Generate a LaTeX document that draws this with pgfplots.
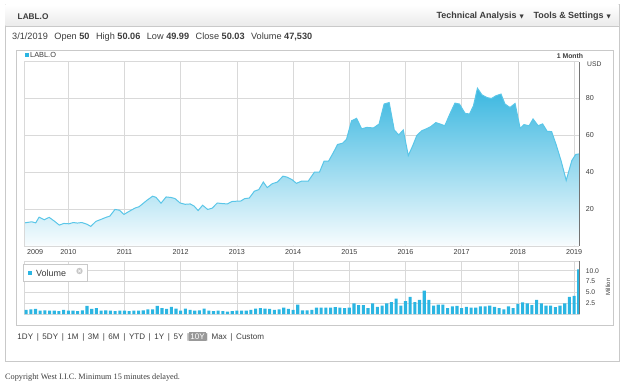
\documentclass[border=0pt]{standalone}
\usepackage{pgfplots}
\usepackage{pgfplotstable}
\pgfplotsset{compat=1.18}
\usepackage{fontspec}
\setmainfont{Liberation Sans}
\newfontfamily\dejavu{DejaVu Sans}
\newfontfamily\serifcr{Liberation Serif}
\definecolor{linec}{HTML}{5AC6E8}
\definecolor{filltop}{HTML}{3AB7E0}
\definecolor{fillbot}{HTML}{F7FCFE}
\definecolor{volc}{HTML}{2BB5E2}
\definecolor{gridc}{HTML}{D9D9D9}
\definecolor{txt}{HTML}{3C3C3C}
\definecolor{boxc}{HTML}{C9C9C9}

\pgfplotstableread{
x y
2009.22 12.4
2009.35 13.0
2009.42 12.4
2009.48 15.5
2009.57 14.1
2009.66 15.4
2009.75 13.4
2009.84 11.2
2009.92 12.1
2010.01 11.9
2010.09 12.6
2010.16 12.3
2010.24 12.6
2010.33 11.7
2010.40 10.5
2010.49 13.2
2010.59 14.4
2010.67 15.4
2010.74 16.1
2010.83 19.7
2010.91 19.3
2010.99 17.0
2011.09 18.8
2011.19 20.5
2011.26 21.2
2011.40 24.7
2011.50 26.9
2011.56 26.3
2011.65 23.1
2011.74 26.5
2011.83 26.2
2011.90 25.6
2011.99 23.2
2012.08 22.5
2012.17 22.7
2012.24 21.5
2012.31 19.1
2012.39 22.0
2012.48 19.7
2012.56 20.4
2012.65 23.2
2012.74 22.9
2012.83 22.7
2012.91 24.0
2013.00 24.2
2013.07 24.3
2013.14 25.6
2013.22 25.9
2013.31 29.6
2013.39 30.5
2013.47 34.6
2013.54 31.6
2013.63 33.7
2013.72 34.6
2013.82 37.8
2013.89 37.3
2013.98 35.9
2014.06 33.9
2014.15 35.1
2014.27 35.1
2014.38 40.0
2014.47 40.0
2014.55 45.9
2014.63 45.9
2014.72 50.8
2014.79 55.0
2014.88 55.7
2014.95 57.8
2015.04 67.9
2015.13 69.2
2015.22 63.5
2015.31 64.3
2015.43 64.0
2015.53 66.1
2015.62 77.0
2015.71 77.8
2015.80 62.9
2015.88 60.2
2015.96 62.9
2016.05 49.0
2016.13 54.4
2016.20 59.8
2016.29 62.5
2016.37 63.5
2016.45 64.7
2016.54 66.9
2016.61 66.2
2016.70 65.2
2016.79 71.6
2016.88 77.5
2016.96 77.0
2017.06 71.9
2017.14 71.6
2017.21 76.1
2017.28 85.6
2017.36 82.0
2017.45 80.5
2017.53 80.0
2017.61 81.5
2017.70 82.4
2017.77 77.0
2017.86 75.1
2017.95 77.3
2018.04 63.8
2018.11 65.8
2018.20 65.2
2018.27 68.9
2018.36 65.2
2018.44 66.2
2018.52 62.2
2018.60 62.0
2018.68 55.0
2018.77 46.0
2018.86 35.5
2018.96 46.3
2019.03 49.6
2019.093 49.9
}\price

\pgfplotstableread{
v
1.0
1.1
1.2
0.8
0.9
0.8
0.8
0.7
1.0
0.8
0.8
0.7
0.9
1.9
1.2
1.4
0.8
0.9
0.8
0.7
0.8
0.8
0.7
0.8
0.8
0.9
1.1
1.1
1.9
1.4
1.2
1.7
1.3
0.8
1.3
1.0
0.8
0.9
1.3
0.8
0.7
0.8
0.7
0.6
0.7
0.8
0.8
0.8
1.0
1.3
1.4
1.3
1.2
1.0
1.1
1.5
1.2
1.0
2.2
0.9
0.9
1.0
1.5
1.5
1.5
1.5
1.6
1.5
1.4
1.5
2.5
2.1
2.1
1.4
2.5
1.7
2.0
2.5
2.8
3.6
2.0
3.0
4.0
2.8
3.3
5.4
3.3
2.0
2.2
2.2
1.4
1.8
1.9
1.4
1.7
1.5
1.5
1.8
1.8
2.0
1.7
1.4
1.1
1.8
1.4
2.4
2.7
2.5
2.1
3.3
2.5
2.0
2.0
1.6
2.0
2.5
4.0
4.2
10.3
}\volume

\begin{document}
\begin{tikzpicture}[x=1bp,y=1bp,font=\fontsize{7}{8}\selectfont]
\path[use as bounding box] (0,0) rectangle (635,386);
% outer frame
\draw[boxc, line width=0.8bp] (5,24.3) rectangle (619,381.5);
\shade[top color=white, bottom color=black!8] (5.4,360) rectangle (618.6,381.1);
\draw[boxc, line width=0.6bp] (5,360) -- (619,360);
\node[anchor=west, text=txt, inner sep=0pt, font=\fontsize{8.3}{9}\selectfont\bfseries] at (17.5,369.5) {LABL.O};
\node[anchor=east, text=txt, inner sep=0pt, font=\fontsize{9}{10}\selectfont\bfseries] at (524,369.5) {Technical Analysis\,\,{\dejavu\fontsize{5.5}{6}\selectfont\raisebox{0.6bp}{▼}}};
\node[anchor=east, text=txt, inner sep=0pt, font=\fontsize{9}{10}\selectfont\bfseries] at (611,369.5) {Tools \& Settings\,\,{\dejavu\fontsize{5.5}{6}\selectfont\raisebox{0.6bp}{▼}}};
\node[anchor=west, text=txt, inner sep=0pt, font=\fontsize{9.2}{10}\selectfont] at (12,349) {3/1/2019\hspace{6.5bp}Open \textbf{50}\hspace{6.5bp}High \textbf{50.06}\hspace{6.5bp}Low \textbf{49.99}\hspace{6.5bp}Close \textbf{50.03}\hspace{6.5bp}Volume \textbf{47,530}};
% inner frame
\draw[boxc, line width=0.7bp] (16.7,61) rectangle (613,336);
% price legend
\fill[volc] (24.5,329.5) rectangle (28.5,333.5);
\node[anchor=west, text=txt, inner sep=0pt, font=\fontsize{7.4}{8}\selectfont] at (30,331.5) {LABL.O};
\node[text=txt, inner sep=0pt, font=\fontsize{6.9}{7}\selectfont\bfseries] at (570,330) {1 Month};
\node[anchor=west, text=txt, inner sep=0pt, font=\fontsize{6.8}{7}\selectfont] at (587,321.5) {USD};

\begin{axis}[
  at={(24.3bp,140.3bp)}, anchor=south west,
  scale only axis, width=555bp, height=184bp,
  xmin=2009.217, xmax=2019.093, ymin=0, ymax=100,
  axis line style={gridc},
  axis x line*=bottom, axis y line*=right,
  xtick={2010,2011,...,2019},
  xticklabels={2010,2011,2012,2013,2014,2015,2016,2017,2018,2019},
  extra x ticks={2009.41}, extra x tick labels={2009},
  extra x tick style={grid=none},
  ytick={20,40,60,80,100}, yticklabels={20,40,60,80,},
  major tick length=0pt,
  grid=major, major grid style={gridc, line width=0.7bp},
  /pgf/number format/assume math mode=true,
  ticklabel style={font=\fontsize{7.2}{8}\selectfont, text=txt},
  yticklabel style={anchor=west, xshift=3bp},
  xticklabel style={yshift=-0.5bp},
  clip=true,
]
\addplot[draw=none, top color=filltop, bottom color=fillbot] table[x=x,y=y] {\price} \closedcycle;
\addplot[linec, line width=1bp] table[x=x,y=y] {\price};
\end{axis}
\draw[gridc, line width=0.7bp] (24.3,140.3) -- (24.3,324.3) -- (579.3,324.3);
\draw[black!55, line width=1.2bp] (579.3,140.3) -- (579.3,324.3);

\begin{axis}[
  at={(24.3bp,71.8bp)}, anchor=south west,
  scale only axis, width=555bp, height=53.5bp,
  xmin=2009.217, xmax=2019.093, ymin=0, ymax=12.3,
  axis line style={gridc},
  xtick={2010,2011,...,2019}, xticklabels={},
  ytick={2.5,5,7.5,10},
  yticklabel pos=right,
  yticklabel style={anchor=west, xshift=3bp, /pgf/number format/.cd, fixed, fixed zerofill, precision=1},
  major tick length=0pt,
  grid=major, major grid style={gridc, line width=0.6bp},
  /pgf/number format/assume math mode=true,
  ticklabel style={font=\fontsize{6.8}{7}\selectfont, text=txt},
]
\addplot[ybar, bar width=0.055, fill=volc, draw=none]
  table[x expr={2009.25+\coordindex/12}, y=v] {\volume};
\end{axis}
\draw[black!55, line width=1.2bp] (579.3,71.8) -- (579.3,125.3);
\node[rotate=90, text=txt, inner sep=0pt, font=\fontsize{6}{7}\selectfont] at (608,99) {Million};
% volume legend box
\draw[boxc, fill=white, line width=0.6bp] (23.5,104.3) rectangle (87.3,122);
\fill[volc] (28,111.5) rectangle (31.5,115);
\node[anchor=west, text=txt, inner sep=0pt, font=\fontsize{9}{10}\selectfont] at (36,113.2) {Volume};
\fill[black!22] (79.5,115) circle (3.2bp);
\draw[white, line width=0.6bp] (78.2,113.7) -- (80.8,116.3) (78.2,116.3) -- (80.8,113.7);

% range selector
\node[anchor=west, text=txt, inner sep=0pt, font=\fontsize{8.1}{9}\selectfont] at (17.3,49.3) {1DY\hspace{3.6bp}|\hspace{3.6bp}5DY\hspace{3.6bp}|\hspace{3.6bp}1M\hspace{3.6bp}|\hspace{3.6bp}3M\hspace{3.6bp}|\hspace{3.6bp}6M\hspace{3.6bp}|\hspace{3.6bp}YTD\hspace{3.6bp}|\hspace{3.6bp}1Y\hspace{3.6bp}|\hspace{3.6bp}5Y\hspace{3.6bp}|{\setlength{\fboxsep}{1.2bp}\colorbox{black!40}{\color{white}10Y}}|\hspace{3.6bp}Max\hspace{3.6bp}|\hspace{3.6bp}Custom};
% footer
\node[anchor=west, text=txt, inner sep=0pt, font=\serifcr\fontsize{8.3}{9}\selectfont] at (5,8) {Copyright West I.I.C. Minimum 15 minutes delayed.};
\end{tikzpicture}
\end{document}
